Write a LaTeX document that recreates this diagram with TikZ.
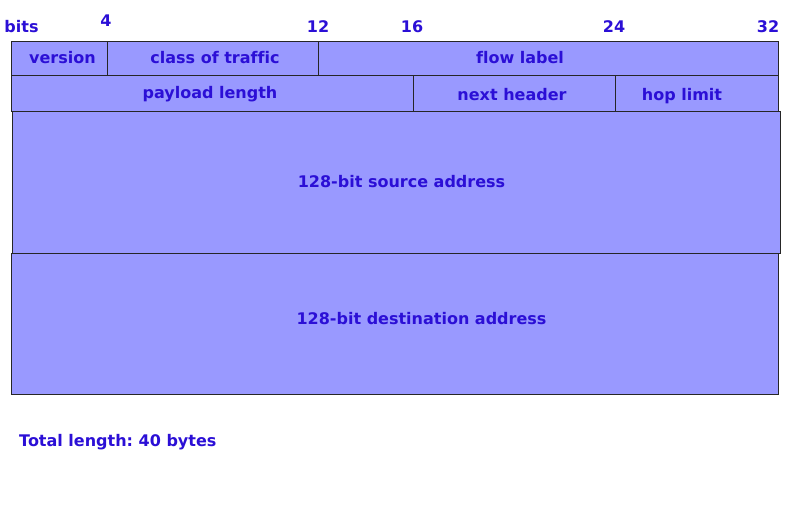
\documentclass[tikz,border=0pt]{standalone}
\usepackage{fontspec}
\setmainfont[Ligatures=NoCommon]{DejaVu Sans}
\frenchspacing
\begin{document}
\begin{tikzpicture}[x=1pt,y=-1pt,
  field/.style={draw=black!85, line width=0.9pt, fill=hdrfill},
  lbl/.style={text=hdrtext, font=\bfseries\fontsize{16}{18}\selectfont, inner sep=0pt, anchor=base},
]
\definecolor{hdrfill}{HTML}{9999FF}
\definecolor{hdrtext}{HTML}{2B0FD6}
\useasboundingbox (0,0) rectangle (800,507);
% header fields
\draw[field] (11,41) rectangle (107,75);
\draw[field] (107,41) rectangle (318,75);
\draw[field] (318,41) rectangle (778,75);
\draw[field] (11,75) rectangle (413,111);
\draw[field] (413,75) rectangle (615,111);
\draw[field] (615,75) rectangle (778,111);
\draw[field] (12,111) rectangle (780,253);
\draw[field] (11,253) rectangle (778,394);
% field names
\node[lbl] (ver)  at (62.5,63)  {version};
\node[lbl] (cls)  at (215,63)   {class of traffic};
\node[lbl] (flow) at (520,63)   {flow label};
\node[lbl] (pay)  at (210,98)   {payload length};
\node[lbl] (nxt)  at (512,100)  {next header};
\node[lbl] (hop)  at (682,100)  {hop limit};
\node[lbl] (src)  at (401.5,187) {128-bit source address};
\node[lbl] (dst)  at (421.5,324) {128-bit destination address};
% bit ruler
\node[lbl] (bits) at (21.5,32) {bits};
\node[lbl] (b4)   at (106,26)  {4};
\node[lbl] (b12)  at (318,32)  {12};
\node[lbl] (b16)  at (412,32)  {16};
\node[lbl] (b24)  at (614,32)  {24};
\node[lbl] (b32)  at (768,32)  {32};
\node[lbl, anchor=base west] (total) at (19,446) {Total length: 40 bytes};
\end{tikzpicture}
\end{document}
